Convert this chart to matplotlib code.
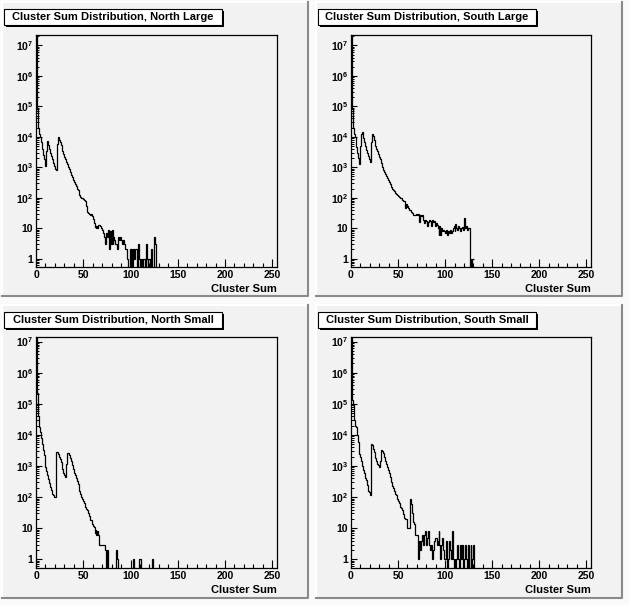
import numpy as np
import matplotlib
matplotlib.use("Agg")
import matplotlib.pyplot as plt
from matplotlib.patches import Rectangle
from matplotlib.ticker import FixedLocator, FixedFormatter, MultipleLocator, NullFormatter

plt.rcParams["font.family"] = ["Liberation Sans", "DejaVu Sans"]
plt.rcParams["font.weight"] = "bold"
plt.rcParams["mathtext.fontset"] = "custom"
plt.rcParams["mathtext.rm"] = "Liberation Sans:bold"
plt.rcParams["mathtext.it"] = "Liberation Sans:bold"
plt.rcParams["mathtext.bf"] = "Liberation Sans:bold"

# counts per unit-wide bin, starting at Cluster Sum = 0 (bins not listed are empty)
north_large = [3e7, 8e4, 2e4, 1.2e4, 1e4, 7e3, 4e3, 2.5e3, 1.8e3, 1.3e3,
               1.1e3, 3.5e3, 7.5e3, 5.5e3, 4e3, 3e3, 2.3e3, 1.8e3, 1.4e3, 1.1e3,
               900, 800, 6e3, 9.5e3, 8e3, 6.5e3, 5.2e3, 4.2e3, 3.4e3, 2.7e3,
               2.2e3, 1.8e3, 1.5e3, 1.25e3, 1e3, 850, 700, 560, 470, 380,
               330, 280, 240, 200, 175, 150, 125, 107, 100, 95,
               90, 85, 80, 55, 35, 32, 30, 28, 30, 25,
               20, 15, 11, 10, 12, 10, 13, 13, 12, 10,
               9, 7, 5, 3, 7, 5, 9, 2, 8, 3,
               9, 3, 5, 4, 3, 3, 2, 5, 4, 5,
               4, 3, 4, 3, 2, 2, 1, 0, 0, 2,
               1, 2, 0, 2, 1, 2, 2, 0, 3, 1,
               0, 1, 0, 1, 1, 0, 3, 1, 0, 1,
               1, 0, 2, 0, 0, 5, 3, 0]

south_large = [3e7, 8e4, 2e4, 1.2e4, 1e4, 4.7e3, 3e3, 2e3, 1.5e3, 1.3e3,
               5e3, 1.2e4, 1.4e4, 9e3, 6.5e3, 5e3, 3.8e3, 3e3, 2.4e3, 1.9e3,
               1.5e3, 7e3, 1.2e4, 1.1e4, 8e3, 6.5e3, 5e3, 4e3, 3.3e3, 2.8e3,
               2.2e3, 1.8e3, 1.4e3, 1e3, 800, 700, 600, 520, 450, 380,
               330, 290, 250, 220, 200, 180, 160, 140, 130, 120,
               110, 105, 100, 95, 85, 80, 80, 45, 60, 50,
               55, 45, 40, 38, 35, 32, 28, 27, 27, 30,
               28, 30, 16, 28, 25, 28, 22, 18, 15, 18,
               17, 12, 16, 18, 17, 12, 18, 16, 17, 12,
               15, 13, 10, 6, 12, 6, 10, 8, 9, 8,
               7, 9, 6, 8, 7, 9, 7, 8, 10, 12,
               8, 14, 10, 9, 12, 10, 8, 10, 11, 9,
               22, 10, 12, 9, 10, 10, 0, 1, 0, 1,
               1]

north_small = [3e7, 2.3e5, 4e4, 1.8e4, 1.2e4, 8e3, 5e3, 3.3e3, 2.2e3, 1.5e3,
               950, 700, 500, 380, 280, 220, 170, 130, 115, 105,
               100, 2.9e3, 2.8e3, 2.4e3, 2e3, 1.7e3, 1.3e3, 1e3, 800, 600,
               500, 450, 1.2e3, 2.7e3, 2.6e3, 2.2e3, 1.8e3, 1.5e3, 1.1e3, 800,
               620, 500, 420, 330, 260, 200, 160, 130, 100, 85,
               75, 65, 50, 42, 38, 30, 24, 18, 19, 14,
               12, 11, 7, 9, 6, 8, 6, 3, 3, 3,
               3, 3, 3, 2, 0, 2, 0, 0, 0, 0,
               0, 0, 0, 0, 0, 2, 1, 0, 0, 0,
               0, 0, 0, 0, 0, 0, 0, 0, 0, 0,
               0, 0, 0, 1, 0, 0, 0, 0, 0, 1,
               1, 0, 0, 0, 0, 0, 0, 0, 0, 0,
               0, 0, 0, 1, 0]

south_small = [3e7, 1.3e5, 9e4, 3e4, 2e4, 1.8e4, 1e4, 6e3, 4.2e3, 2.5e3,
               2e3, 1.5e3, 1e3, 750, 600, 400, 350, 250, 160, 150,
               120, 5e3, 4.8e3, 3.6e3, 2.9e3, 2.3e3, 1.8e3, 1.5e3, 1.2e3, 1.1e3,
               900, 1.5e3, 3.2e3, 3e3, 2.6e3, 2e3, 1.5e3, 1.2e3, 960, 750,
               600, 450, 380, 300, 230, 190, 160, 130, 117, 90,
               75, 66, 50, 45, 38, 28, 22, 20, 20, 20,
               10, 10, 10, 90, 60, 30, 16, 14, 6, 6,
               6, 1, 4, 2, 4, 6, 6, 3, 6, 8,
               3, 5, 8, 3, 2, 3, 1, 2, 4, 5,
               5, 3, 4, 8, 3, 1, 3, 5, 2, 1,
               1, 4, 0, 1, 4, 2, 1, 8, 1, 0,
               1, 0, 1, 3, 1, 0, 3, 1, 3, 0,
               1, 3, 1, 0, 3, 0, 0, 3, 0, 1,
               3, 0]

titles = ["Cluster Sum Distribution, North Large",
          "Cluster Sum Distribution, South Large",
          "Cluster Sum Distribution, North Small",
          "Cluster Sum Distribution, South Small"]
series = [north_large, south_large, north_small, south_small]

W, H = 629, 605
PAD_COLOR = "#f2f2f2"


def fx(x):
    return x / W


def fy(y):
    return 1 - y / H


def rect_px(x0, y0, x1, y1, **kw):
    r = Rectangle((fx(x0), fy(y1)), (x1 - x0) / W, (y1 - y0) / H,
                  transform=fig.transFigure, **kw)
    fig.add_artist(r)
    return r


fig = plt.figure(figsize=(W / 100, H / 100), dpi=100)
fig.patch.set_facecolor("#fafafa")

# pad boxes: (x0, y0, x1, y1) in pixels
pads = [(2, 2, 308, 296), (316, 2, 622, 296), (2, 305, 308, 598), (316, 305, 622, 598)]
frames = [(36, 35, 277, 267), (351, 35, 591, 267), (36, 337, 277, 568), (351, 337, 591, 568)]
ylims = [(0.53, 2.2e7), (0.53, 2.2e7), (0.53, 1.4e7), (0.53, 1.4e7)]

ylabels = ["1", "10", "$10^{2}$", "$10^{3}$", "$10^{4}$", "$10^{5}$", "$10^{6}$", "$10^{7}$"]
ymajor = [1, 10, 1e2, 1e3, 1e4, 1e5, 1e6, 1e7]
yminor = [m * 10.0 ** d for d in range(-1, 8) for m in range(2, 10)]

for i in range(4):
    x0, y0, x1, y1 = pads[i]
    rect_px(x0, y0, x1, y1, facecolor=PAD_COLOR, edgecolor="none", zorder=-5)
    fig.add_artist(plt.Line2D([fx(x0), fx(x0), fx(x1)], [fy(y1), fy(y0), fy(y0)],
                              transform=fig.transFigure, color="white", lw=1.5, zorder=-4))
    fig.add_artist(plt.Line2D([fx(x0), fx(x1), fx(x1)], [fy(y1), fy(y1), fy(y0)],
                              transform=fig.transFigure, color="#8a8a8a", lw=1.5, zorder=-4))

    l, t, r, b = frames[i]
    ax = fig.add_axes([fx(l), fy(b), (r - l) / W, (b - t) / H])
    ax.set_facecolor(PAD_COLOR)

    vals = np.array(series[i], dtype=float)
    vals[vals <= 0] = 0.05
    edges = np.arange(len(vals) + 1)
    ax.stairs(vals, edges, baseline=None, color="black", lw=0.9)

    ax.set_yscale("log")
    ax.set_xlim(0, 255)
    ax.set_ylim(*ylims[i])

    ax.xaxis.set_major_locator(MultipleLocator(50))
    ax.xaxis.set_minor_locator(MultipleLocator(10))
    ax.yaxis.set_major_locator(FixedLocator(ymajor))
    ax.yaxis.set_major_formatter(FixedFormatter(ylabels))
    ax.yaxis.set_minor_locator(FixedLocator(yminor))
    ax.yaxis.set_minor_formatter(NullFormatter())

    ax.tick_params(axis="x", which="major", direction="in", length=5.5, width=0.8,
                   labelsize=7.5, pad=2)
    ax.tick_params(axis="x", which="minor", direction="in", length=2.8, width=0.8)
    ax.tick_params(axis="y", which="major", direction="in", length=4.5, width=0.8,
                   labelsize=7.5, pad=2)
    ax.tick_params(axis="y", which="minor", direction="in", length=2.3, width=0.7)
    for lab in ax.get_xticklabels() + ax.get_yticklabels():
        lab.set_fontweight("bold")
    for sp in ax.spines.values():
        sp.set_linewidth(0.9)

    fig.text(fx(r), fy(b + 22), "Cluster Sum", ha="right", va="center",
             fontsize=8, fontweight="bold")

    # title box with shadow
    bx0, by0 = x0 + 2, y0 + 7
    bx1, by1 = bx0 + 218, by0 + 16
    rect_px(bx0 + 2, by0 + 2, bx1 + 2, by1 + 2, facecolor="black", edgecolor="none", zorder=4)
    rect_px(bx0, by0, bx1, by1, facecolor="white", edgecolor="black", lw=0.8, zorder=5)
    fig.text(fx((bx0 + bx1) / 2), fy((by0 + by1) / 2), titles[i], ha="center", va="center",
             fontsize=8, fontweight="bold", zorder=6)

fig.savefig("out.png", dpi=100, facecolor=fig.get_facecolor())
